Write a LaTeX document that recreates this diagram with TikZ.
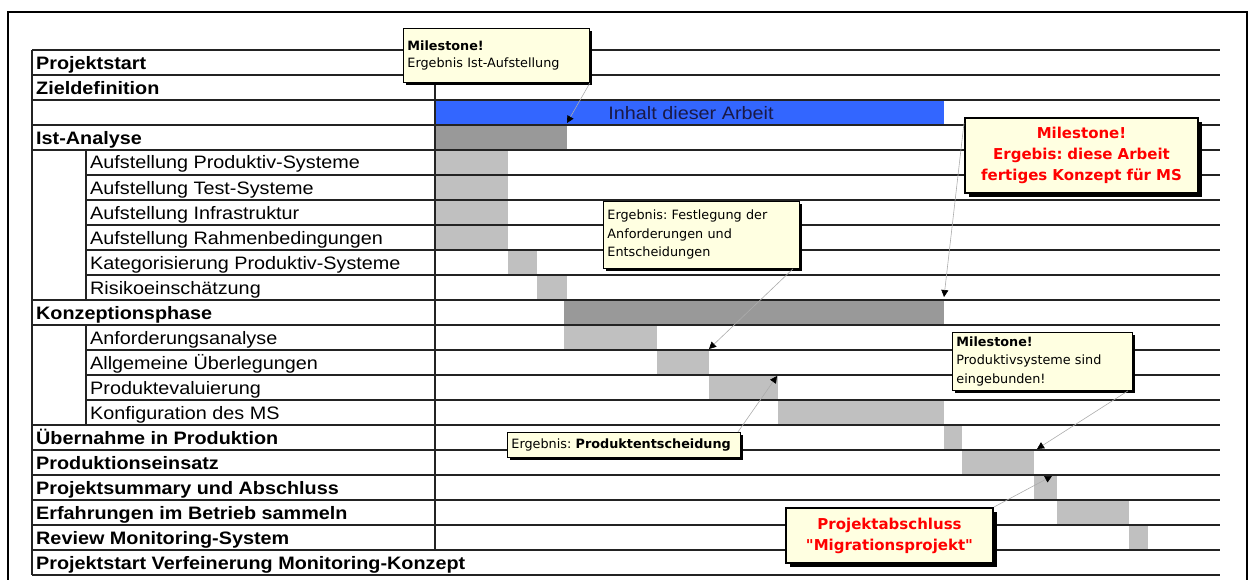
\documentclass[tikz,border=0pt]{standalone}
\usepackage{fontspec}
\setmainfont[FakeStretch=1.1]{Liberation Sans}
\newfontfamily\notefont{DejaVu Sans}
\usetikzlibrary{arrows.meta,shadows}
\frenchspacing

\definecolor{barblue}{RGB}{51,102,255}
\definecolor{bardark}{RGB}{153,153,153}
\definecolor{barlight}{RGB}{192,192,192}
\definecolor{notebg}{RGB}{255,255,225}
\definecolor{gridline}{RGB}{35,35,35}
\definecolor{notered}{RGB}{255,0,0}
\definecolor{bartext}{RGB}{25,25,70}

\tikzset{
  rowmain/.style={anchor=base west, inner sep=0pt, font=\fontsize{18}{20}\selectfont\bfseries},
  rowsub/.style={anchor=base west, inner sep=0pt, font=\fontsize{18}{20}\selectfont},
  gridrule/.style={draw=gridline, line width=1.6pt},
  note/.style={draw=black, line width=0.9pt, fill=notebg, anchor=north west,
    inner xsep=4pt, inner ysep=2pt, align=left,
    drop shadow={fill=black, opacity=1, shadow xshift=3pt, shadow yshift=-3pt},
    font=\notefont\fontsize{12.8}{18.5}\selectfont},
  rednote/.style={draw=black, line width=2pt, fill=notebg, anchor=north west,
    inner sep=2pt, align=center, text=notered,
    drop shadow={fill=black, opacity=1, shadow xshift=4pt, shadow yshift=-4pt},
    font=\notefont\bfseries\fontsize{15}{21}\selectfont},
  callline/.style={draw=gray!65, line width=0.6pt,
    -{Triangle[length=7pt,width=7pt,color=black]}},
}

\begin{document}
\begin{tikzpicture}[x=1pt,y=-1pt]
\useasboundingbox (0,0) rectangle (1249,580);

% outer frame
\draw[black, line width=2.2pt] (8,580) -- (8,12) -- (1247,12) -- (1247,580);

% blue summary bar
\fill[barblue] (435,100) rectangle (944,125);
\node[font=\fontsize{18}{20}\selectfont, text=bartext, inner sep=0pt] (inhalt) at (691,113) {Inhalt dieser Arbeit};

% phase bars (dark) and task bars (light)
\fill[bardark] (435,125) rectangle (567,150);
\fill[barlight] (435,150) rectangle (508,250);
\fill[barlight] (508,250) rectangle (537,275);
\fill[barlight] (537,275) rectangle (567,300);
\fill[bardark] (564,300) rectangle (944,325);
\fill[barlight] (564,325) rectangle (657,350);
\fill[barlight] (657,350) rectangle (709,375);
\fill[barlight] (709,375) rectangle (778,400);
\fill[barlight] (778,400) rectangle (944,425);
\fill[barlight] (944,425) rectangle (962,450);
\fill[barlight] (962,450) rectangle (1034,475);
\fill[barlight] (1034,475) rectangle (1057,500);
\fill[barlight] (1057,500) rectangle (1129,525);
\fill[barlight] (1129,525) rectangle (1148,550);

% row rules
\foreach \yy in {50,75,100,125,150,300,325,425,450,475,500,525,550,575}
  \draw[gridrule] (32,\yy) -- (1220,\yy);
\foreach \yy in {175,200,225,250,275,350,375,400}
  \draw[gridrule] (86,\yy) -- (1220,\yy);

% column rules
\draw[gridrule] (32,50) -- (32,575);
\draw[gridrule] (86,150) -- (86,300);
\draw[gridrule] (86,325) -- (86,425);
\draw[gridrule] (435,50) -- (435,550);

% task labels
\node[rowmain] (r1) at (36,70) {Projektstart};
\node[rowmain] (r2) at (36,95) {Zieldefinition};
\node[rowmain] (r4) at (36,145) {Ist-Analyse};
\node[rowsub] (r5) at (90,169) {Aufstellung Produktiv-Systeme};
\node[rowsub] (r6) at (90,194) {Aufstellung Test-Systeme};
\node[rowsub] (r7) at (90,219) {Aufstellung Infrastruktur};
\node[rowsub] (r8) at (90,244) {Aufstellung Rahmenbedingungen};
\node[rowsub] (r9) at (90,269) {Kategorisierung Produktiv-Systeme};
\node[rowsub] (r10) at (90,294) {Risikoeinschätzung};
\node[rowmain] (r11) at (36,319) {Konzeptionsphase};
\node[rowsub] (r12) at (90,344) {Anforderungsanalyse};
\node[rowsub] (r13) at (90,369) {Allgemeine Überlegungen};
\node[rowsub] (r14) at (90,394) {Produktevaluierung};
\node[rowsub] (r15) at (90,419) {Konfiguration des MS};
\node[rowmain] (r16) at (36,444) {Übernahme in Produktion};
\node[rowmain] (r17) at (36,469) {Produktionseinsatz};
\node[rowmain] (r18) at (36,494) {Projektsummary und Abschluss};
\node[rowmain] (r19) at (36,519) {Erfahrungen im Betrieb sammeln};
\node[rowmain] (r20) at (36,544) {Review Monitoring-System};
\node[rowmain] (r21) at (36,569) {Projektstart Verfeinerung Monitoring-Konzept};

% callout targets
\coordinate (tipA) at (567,123);
\coordinate (tipB) at (944,297);
\coordinate (tipC) at (709,349);
\coordinate (tipD) at (1037,449);
\coordinate (tipE) at (777,376);
\coordinate (tipF) at (1052,476);

% callout boxes
\node[note, text width=178pt, minimum height=54pt] (msA) at (403,28)
  {\textbf{Milestone!}\\[-2pt]Ergebnis Ist-Aufstellung};
\node[rednote, text width=229pt, minimum height=75pt] (msB) at (964,117)
  {Milestone!\\Ergebis: diese Arbeit\\fertiges Konzept für MS};
\node[note, text width=188pt, minimum height=67pt] (msC) at (603,201)
  {Ergebnis: Festlegung der\\Anforderungen und\\Entscheidungen};
\node[note, text width=172pt, minimum height=58pt] (msD) at (952,332)
  {\textbf{Milestone!}\\Produktivsysteme sind\\eingebunden!};
\node[note, text width=225pt, minimum height=25pt] (msE) at (507,432)
  {Ergebnis: \textbf{Produktentscheidung}};
\node[rednote, text width=203pt, minimum height=55pt] (msF) at (785,507)
  {Projektabschluss\\"Migrationsprojekt"};

% callout connectors
\draw[callline] (msA.south east) -- (tipA);
\draw[callline] ([yshift=-6pt]msB.north west) -- (tipB);
\draw[callline] ([xshift=-7pt]msC.south east) -- (tipC);
\draw[callline] ([xshift=-5pt]msD.south east) -- (tipD);
\draw[callline] ([xshift=-3pt]msE.north east) -- (tipE);
\draw[callline] (msF.north east) -- (tipF);
\end{tikzpicture}
\end{document}
